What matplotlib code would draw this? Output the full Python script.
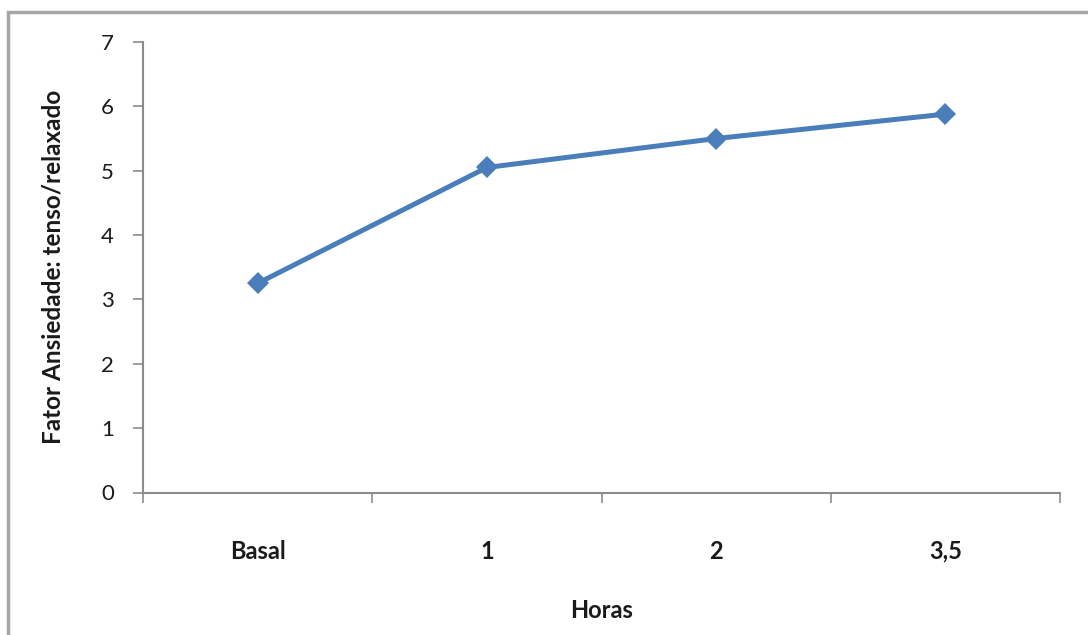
import matplotlib
matplotlib.use("Agg")
import matplotlib.pyplot as plt
from matplotlib.patches import Rectangle
import numpy as np

horas = ["Basal", "1", "2", "3,5"]
ansiedade = [3.25, 5.05, 5.5, 5.88]
y_ticks = [0, 1, 2, 3, 4, 5, 6, 7]

plt.rcParams['font.family'] = ['Lato', 'DejaVu Sans']

fig = plt.figure(figsize=(10.88, 6.35), dpi=100)
fig.patch.set_facecolor('white')

# moldura cinza do gráfico (cortada à direita e em baixo)
fig.patches.append(Rectangle((8 / 1088, -0.05), 1.2, 1 - 12 / 635 + 0.05,
                             transform=fig.transFigure, fill=False,
                             edgecolor='#a6a6a6', linewidth=2.5))

ax = fig.add_axes([143 / 1088, 1 - 492.5 / 635, (1060 - 143) / 1088, (492.5 - 42) / 635])
ax.set_facecolor('white')

x = np.arange(len(horas))
ax.plot(x, ansiedade, color='#4a7ebb', linewidth=3.6, marker='D',
        markersize=11, markeredgewidth=0, solid_capstyle='round')

ax.set_xlim(-0.5, len(horas) - 0.5)
ax.set_ylim(0, 7)
ax.set_yticks(y_ticks)
ax.set_yticklabels([str(v) for v in y_ticks], fontsize=16, color='#1a1a1a')

ax.set_xticks(x)
ax.set_xticklabels(horas, fontsize=17, fontweight='bold', color='#1a1a1a')
ax.set_xticks(np.arange(len(horas) + 1) - 0.5, minor=True)
ax.tick_params(axis='x', which='major', length=0, pad=34)
ax.tick_params(axis='x', which='minor', length=7, width=1.2, color='#8c8c8c')
ax.tick_params(axis='y', length=7, width=1.2, color='#8c8c8c', pad=14)

for s in ['top', 'right']:
    ax.spines[s].set_visible(False)
for s in ['left', 'bottom']:
    ax.spines[s].set_color('#8c8c8c')
    ax.spines[s].set_linewidth(1.5)

ax.set_xlabel("Horas", fontsize=17, fontweight='bold', color='#1a1a1a', labelpad=26)
ax.set_ylabel("Fator Ansiedade: tenso/relaxado", fontsize=17.5, fontweight='bold',
              color='#1a1a1a', labelpad=26)

fig.savefig("out.png", dpi=100, facecolor='white')
